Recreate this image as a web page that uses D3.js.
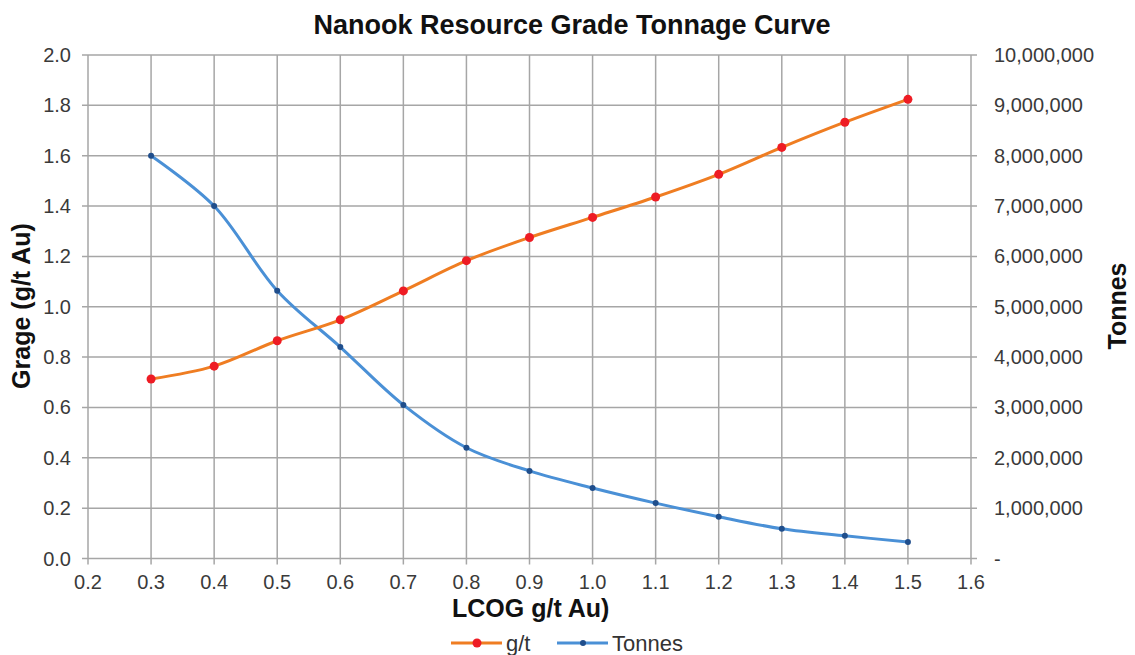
<!DOCTYPE html>
<html>
<head>
<meta charset="utf-8">
<script src="https://cdn.jsdelivr.net/npm/d3@7"></script>
<style>
  body { margin: 0; background: #fff; }
  text { font-family: "Liberation Sans", Arial, sans-serif; }
</style>
</head>
<body>
<script>
var cutoffs = [0.3, 0.4, 0.5, 0.6, 0.7, 0.8, 0.9, 1.0, 1.1, 1.2, 1.3, 1.4, 1.5];
var grade = [0.713, 0.764, 0.865, 0.948, 1.063, 1.183, 1.275, 1.355, 1.436, 1.526, 1.633, 1.733, 1.824];
var tonnes = [8000000, 7000000, 5320000, 4200000, 3050000, 2200000, 1740000, 1400000, 1100000, 830000, 590000, 450000, 330000];
var xTicks = d3.range(2, 17).map(function (d) { return d / 10; });
var leftTicks = d3.range(0, 11).map(function (d) { return d / 5; });
var rightTicks = d3.range(0, 11).map(function (d) { return d * 1000000; });

var w = 1135, h = 655;
var plotL = 88, plotR = 971, plotT = 55, plotB = 558.5;

var svg = d3.select("body").append("svg").attr("width", w).attr("height", h);

var xScale = d3.scaleLinear().domain([0.2, 1.6]).range([plotL, plotR]);
var yLeft = d3.scaleLinear().domain([0, 2]).range([plotB, plotT]);
var yRight = d3.scaleLinear().domain([0, 10000000]).range([plotB, plotT]);

var gridColor = "#a6a6a6";

// grid
svg.append("g").selectAll("line").data(leftTicks).enter().append("line")
    .attr("x1", plotL - 6).attr("x2", plotR + 6)
    .attr("y1", function (d) { return yLeft(d); }).attr("y2", function (d) { return yLeft(d); })
    .attr("stroke", gridColor).attr("stroke-width", 1.5);
svg.append("g").selectAll("line").data(xTicks).enter().append("line")
    .attr("x1", function (d) { return xScale(d); }).attr("x2", function (d) { return xScale(d); })
    .attr("y1", plotT).attr("y2", plotB + 6)
    .attr("stroke", gridColor).attr("stroke-width", 1.5);

// tick labels
svg.append("g").selectAll("text").data(leftTicks).enter().append("text")
    .text(function (d) { return d.toFixed(1); })
    .attr("x", 71).attr("y", function (d) { return yLeft(d) + 7; })
    .attr("text-anchor", "end").attr("font-size", "20px").attr("fill", "#3a3a3a");

svg.append("g").selectAll("text").data(rightTicks).enter().append("text")
    .text(function (d) { return d === 0 ? "-" : d3.format(",")(d); })
    .attr("x", 994).attr("y", function (d) { return yRight(d) + 7; })
    .attr("text-anchor", "start").attr("font-size", "20px").attr("fill", "#3a3a3a");

svg.append("g").selectAll("text").data(xTicks).enter().append("text")
    .text(function (d) { return d.toFixed(1); })
    .attr("x", function (d) { return xScale(d); }).attr("y", 589)
    .attr("text-anchor", "middle").attr("font-size", "20px").attr("fill", "#3a3a3a");

// lines
var gradeLine = d3.line()
    .x(function (d, i) { return xScale(cutoffs[i]); })
    .y(function (d) { return yLeft(d); })
    .curve(d3.curveCatmullRom.alpha(0.5));
var tonneLine = d3.line()
    .x(function (d, i) { return xScale(cutoffs[i]); })
    .y(function (d) { return yRight(d); })
    .curve(d3.curveCatmullRom.alpha(0.5));

svg.append("path").datum(tonnes).attr("d", tonneLine)
    .attr("fill", "none").attr("stroke", "#4a90d6").attr("stroke-width", 3);
svg.append("path").datum(grade).attr("d", gradeLine)
    .attr("fill", "none").attr("stroke", "#ef7d22").attr("stroke-width", 3);

svg.append("g").selectAll("circle").data(tonnes).enter().append("circle")
    .attr("cx", function (d, i) { return xScale(cutoffs[i]); })
    .attr("cy", function (d) { return yRight(d); })
    .attr("r", 3).attr("fill", "#1f4e8c");
svg.append("g").selectAll("circle").data(grade).enter().append("circle")
    .attr("cx", function (d, i) { return xScale(cutoffs[i]); })
    .attr("cy", function (d) { return yLeft(d); })
    .attr("r", 4.5).attr("fill", "#ee1c24");

// titles
svg.append("text").text("Nanook Resource Grade Tonnage Curve")
    .attr("x", 572).attr("y", 34).attr("text-anchor", "middle")
    .attr("font-family", "'Open Sans', sans-serif").attr("font-weight", "bold")
    .attr("font-size", "27px").attr("fill", "#111");

svg.append("text").text("Grage (g/t Au)")
    .attr("transform", "translate(30,306) rotate(-90)").attr("text-anchor", "middle")
    .attr("font-weight", "bold").attr("font-size", "25px").attr("fill", "#111");

svg.append("text").text("Tonnes")
    .attr("transform", "translate(1126,306) rotate(-90)").attr("text-anchor", "middle")
    .attr("font-weight", "bold").attr("font-size", "25px").attr("fill", "#111");

svg.append("text").text("LCOG g/t Au)")
    .attr("x", 452).attr("y", 617).attr("text-anchor", "start")
    .attr("font-weight", "bold").attr("font-size", "25px").attr("fill", "#111");

// legend
var legend = [
    { name: "g/t", line: "#ef7d22", dot: "#ee1c24", r: 4.5, x: 451 },
    { name: "Tonnes", line: "#4a90d6", dot: "#1f4e8c", r: 3, x: 557 }
];
var lg = svg.append("g").selectAll("g").data(legend).enter().append("g")
    .attr("transform", function (d) { return "translate(" + d.x + ",643)"; });
lg.append("line").attr("x1", 0).attr("x2", 51).attr("y1", 0).attr("y2", 0)
    .attr("stroke", function (d) { return d.line; }).attr("stroke-width", 3);
lg.append("circle").attr("cx", 26).attr("cy", 0)
    .attr("r", function (d) { return d.r; }).attr("fill", function (d) { return d.dot; });
lg.append("text").text(function (d) { return d.name; })
    .attr("x", 55).attr("y", 8).attr("font-size", "22px").attr("fill", "#333");
</script>
</body>
</html>
